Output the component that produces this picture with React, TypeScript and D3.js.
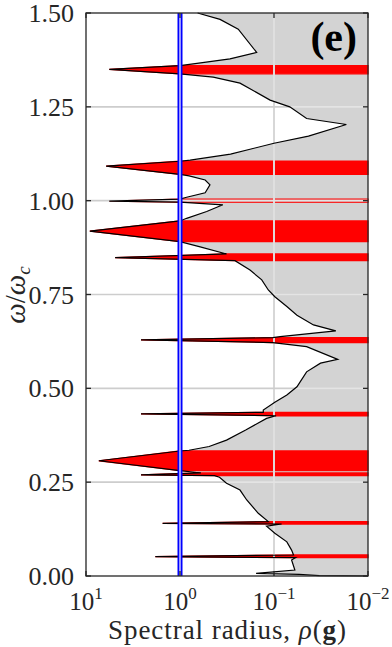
import React from "react";
import * as d3 from "d3";

// normalised frequency (top to bottom) and spectral radius
const omega = [
  1.5, 1.483, 1.457, 1.395, 1.378, 1.366, 1.36, 1.35, 1.338, 1.329, 1.313, 1.268,
  1.25, 1.219, 1.203, 1.172, 1.153, 1.124, 1.108, 1.105, 1.092, 1.07, 1.066, 1.055,
  1.042, 1.021, 1.009, 1.004, 0.999, 0.996, 0.989, 0.971, 0.953, 0.946, 0.919, 0.891,
  0.877, 0.858, 0.848, 0.84, 0.815, 0.789, 0.762, 0.744, 0.718, 0.695, 0.669, 0.653,
  0.638, 0.635, 0.629, 0.622, 0.611, 0.577, 0.567, 0.544, 0.504, 0.482, 0.463, 0.442,
  0.436, 0.432, 0.427, 0.42, 0.389, 0.362, 0.345, 0.335, 0.333, 0.307, 0.281, 0.2745,
  0.2696, 0.2675, 0.263, 0.247, 0.229, 0.2025, 0.167, 0.145, 0.14, 0.1385, 0.133, 0.114,
  0.091, 0.069, 0.056, 0.0514, 0.0488, 0.0426, 0.016, 0.0072, 0.0045, 0.0008, 0,
];
const rho = [
  0.65, 0.375, 0.24, 0.153, 0.294, 0.66, 1.0, 5.65, 1.0, 0.443, 0.23, 0.11,
  0.068, 0.045, 0.017, 0.043, 0.1, 0.29, 0.78, 1.0, 6.1, 1.0, 0.8, 0.54,
  0.48, 0.54, 0.85, 1.0, 5.65, 1.0, 0.35, 0.52, 0.85, 1.0, 9.1, 1.0,
  0.61, 0.32, 4.9, 0.26, 0.18, 0.135, 0.115, 0.098, 0.073, 0.057, 0.038, 0.022,
  0.086, 0.103, 2.6, 0.103, 0.045, 0.021, 0.032, 0.045, 0.057, 0.073, 0.098, 0.13,
  0.13, 2.6, 0.095, 0.12, 0.2, 0.32, 0.49, 0.8, 1.0, 7.3, 1.0, 0.6,
  2.6, 0.43, 0.38, 0.32, 0.23, 0.195, 0.147, 0.115, 1.53, 0.083, 0.12, 0.098,
  0.073, 0.065, 0.062, 1.83, 0.059, 0.065, 0.06, 0.155, 0.054, 0.033, 0.01,
];

const yTicks = [0, 0.25, 0.5, 0.75, 1.0, 1.25, 1.5];
const xTicks = [10, 1, 0.1, 0.01];
const xTickExp = ["1", "0", "\u22121", "\u22122"];

const left = 86, right = 368, top = 13, bottom = 576;
const serif = { fontFamily: "'Liberation Serif', serif" };

type Pt = { w: number; r: number };

export default function App() {
  const x = d3.scaleLog().domain([10, 0.01]).range([left, right]);
  const y = d3.scaleLinear().domain([0, 1.5]).range([bottom, top]);

  const pts: Pt[] = omega.map((w, i) => ({ w, r: rho[i] }));

  const area = d3
    .area<Pt>()
    .y((d) => y(d.w))
    .x0((d) => x(d.r))
    .x1(right);
  const line = d3
    .line<Pt>()
    .x((d) => x(d.r))
    .y((d) => y(d.w));

  // unstable runs: every point with rho > 1 plus its neighbours
  const runs: number[][] = [];
  pts.forEach((p, i) => {
    if (p.r > 1) {
      const s = Math.max(0, i - 1);
      const e = Math.min(pts.length - 1, i + 1);
      const last = runs[runs.length - 1];
      if (last && s <= last[1]) last[1] = e;
      else runs.push([s, e]);
    }
  });

  const grayPath = area(pts) || "";
  const gridH = yTicks.filter((t) => t > 0 && t < 1.5);
  const gridV = [1, 0.1];

  const gridLines = (color: string) => (
    <g stroke={color} strokeWidth={1.6}>
      {gridH.map((t) => (
        <line key={"h" + t} x1={left} x2={right} y1={y(t)} y2={y(t)} />
      ))}
      {gridV.map((t) => (
        <line key={"v" + t} x1={x(t)} x2={x(t)} y1={top} y2={bottom} />
      ))}
    </g>
  );

  return (
    <svg
      width={392}
      height={647}
      style={{ position: "absolute", left: 0, top: 0, background: "#fff" }}
    >
      <defs>
        <clipPath id="fillClip">
          <path d={grayPath} />
        </clipPath>
      </defs>

      <path d={grayPath} fill="#d3d3d3" />
      {runs.map(([s, e], i) => (
        <path
          key={i}
          d={area(pts.slice(s, e + 1)) || ""}
          fill="#ff0000"
          stroke="#ff0000"
          strokeWidth={1.3}
        />
      ))}

      {gridLines("#cdcdcd")}
      <g clipPath="url(#fillClip)">{gridLines("#e4e4e4")}</g>

      <path d={line(pts) || ""} fill="none" stroke="#000" strokeWidth={1.2} />

      {/* rho = 1 */}
      <line x1={x(1)} x2={x(1)} y1={top} y2={bottom} stroke="#0000ff" strokeWidth={5} />
      <line x1={x(1)} x2={x(1)} y1={top} y2={bottom} stroke="#ffffff" strokeWidth={1.2} />

      {/* frame and ticks */}
      <rect
        x={left}
        y={top}
        width={right - left}
        height={bottom - top}
        fill="none"
        stroke="#262626"
        strokeWidth={1.3}
      />
      <g stroke="#262626" strokeWidth={1.3}>
        {yTicks.map((t) => (
          <g key={"yt" + t}>
            <line x1={left} x2={left + 5} y1={y(t)} y2={y(t)} />
            <line x1={right - 5} x2={right} y1={y(t)} y2={y(t)} />
          </g>
        ))}
        {xTicks.map((t) => (
          <g key={"xt" + t}>
            <line x1={x(t)} x2={x(t)} y1={top} y2={top + 5} />
            <line x1={x(t)} x2={x(t)} y1={bottom - 5} y2={bottom} />
          </g>
        ))}
      </g>

      {yTicks.map((t) => (
        <text
          key={"yl" + t}
          x={74}
          y={y(t) + 9}
          textAnchor="end"
          fontSize={26}
          fill="#262626"
          style={serif}
        >
          {d3.format(".2f")(t)}
        </text>
      ))}
      {xTicks.map((t, i) => (
        <text
          key={"xl" + t}
          x={x(t)}
          y={610}
          textAnchor="middle"
          fontSize={25}
          fill="#262626"
          style={serif}
        >
          <tspan>10</tspan>
          <tspan dy={-11} fontSize={17}>
            {xTickExp[i]}
          </tspan>
        </text>
      ))}

      <text
        x={227}
        y={639}
        textAnchor="middle"
        fontSize={27}
        fill="#262626"
        style={serif}
        textLength={238}
        lengthAdjust="spacing"
      >
        Spectral radius, <tspan fontStyle="italic">ρ</tspan>(
        <tspan fontWeight="bold">g</tspan>)
      </text>

      <text
        transform="translate(25,295) rotate(-90)"
        textAnchor="middle"
        fontSize={29}
        fill="#262626"
        style={serif}
      >
        <tspan fontStyle="italic">ω</tspan>/<tspan fontStyle="italic">ω</tspan>
        <tspan fontStyle="italic" fontSize={19} dy={5}>
          c
        </tspan>
      </text>

      <text
        x={357}
        y={51}
        textAnchor="end"
        fontSize={42}
        fontWeight="bold"
        fill="#000"
        style={serif}
      >
        (e)
      </text>
    </svg>
  );
}
